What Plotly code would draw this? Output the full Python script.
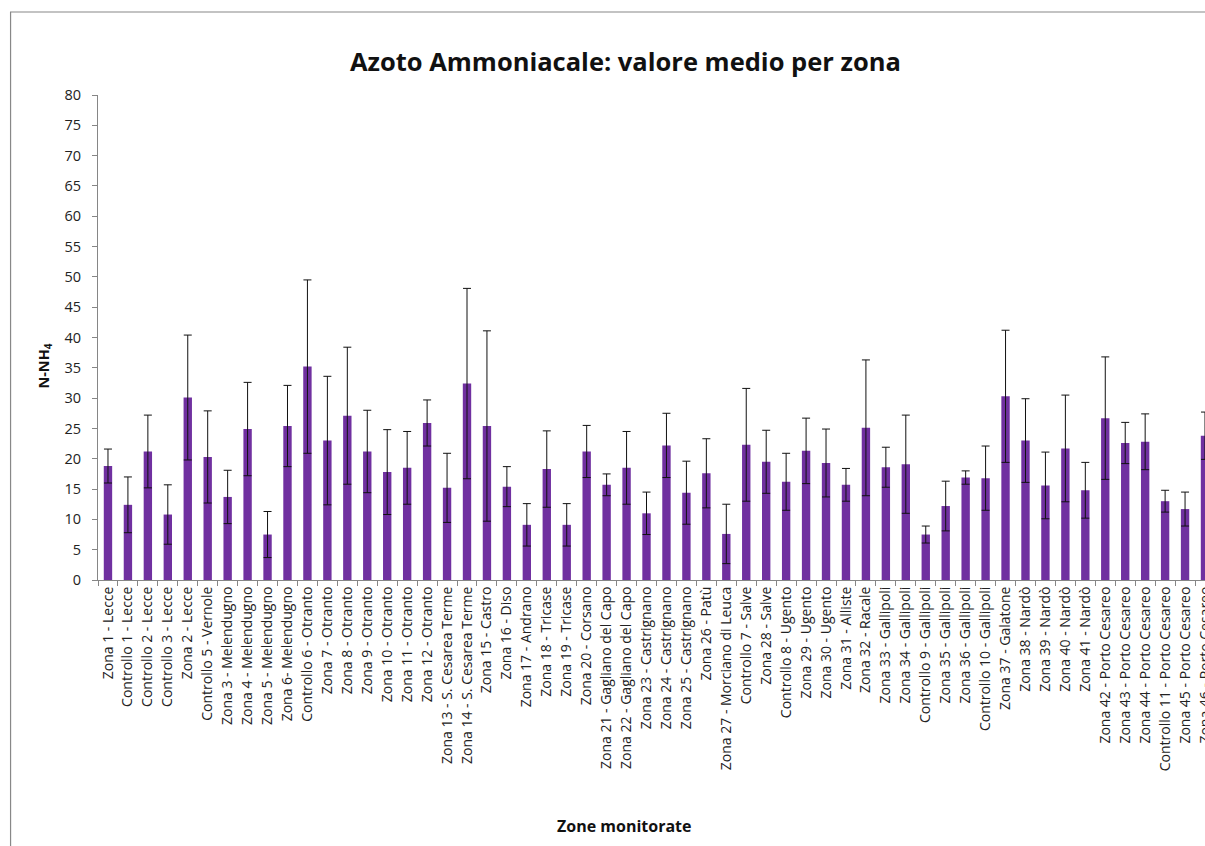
import plotly.graph_objects as go

# Mean ammonia nitrogen (N-NH4) per monitored zone, with standard deviation
zone = [
    "Zona 1 - Lecce", "Controllo 1 - Lecce", "Controllo 2 - Lecce", "Controllo 3 - Lecce",
    "Zona 2 - Lecce", "Controllo 5 - Vernole", "Zona 3 - Melendugno", "Zona 4 - Melendugno",
    "Zona 5 - Melendugno", "Zona 6- Melendugno", "Controllo 6 - Otranto", "Zona 7 - Otranto",
    "Zona 8 - Otranto", "Zona 9 - Otranto", "Zona 10 - Otranto", "Zona 11 - Otranto",
    "Zona 12 - Otranto", "Zona 13 - S. Cesarea Terme", "Zona 14 - S. Cesarea Terme",
    "Zona 15 - Castro", "Zona 16 - Diso", "Zona 17 - Andrano", "Zona 18 - Tricase",
    "Zona 19 - Tricase", "Zona 20 - Corsano", "Zona 21 - Gagliano del Capo",
    "Zona 22 - Gagliano del Capo", "Zona 23 - Castrignano", "Zona 24 - Castrignano",
    "Zona 25 - Castrignano", "Zona 26 - Patù", "Zona 27 - Morciano di Leuca",
    "Controllo 7 - Salve", "Zona 28 - Salve", "Controllo 8 - Ugento", "Zona 29 - Ugento",
    "Zona 30 - Ugento", "Zona 31 - Alliste", "Zona 32 - Racale", "Zona 33 - Gallipoli",
    "Zona 34 - Gallipoli", "Controllo 9 - Gallipoli", "Zona 35 - Gallipoli",
    "Zona 36 - Gallipoli", "Controllo 10 - Gallipoli", "Zona 37 - Galatone",
    "Zona 38 - Nardò", "Zona 39 - Nardò", "Zona 40 - Nardò", "Zona 41 - Nardò",
    "Zona 42 - Porto Cesareo", "Zona 43 - Porto Cesareo", "Zona 44 - Porto Cesareo",
    "Controllo 11 - Porto Cesareo", "Zona 45 - Porto Cesareo", "Zona 46 - Porto Cesareo",
]

media = [
    18.8, 12.4, 21.2, 10.8, 30.1, 20.3, 13.7, 24.9, 7.5, 25.4, 35.2, 23.0,
    27.1, 21.2, 17.8, 18.5, 25.9, 15.2, 32.4, 25.4, 15.4, 9.1, 18.3, 9.1,
    21.2, 15.7, 18.5, 11.0, 22.2, 14.4, 17.6, 7.6, 22.3, 19.5, 16.2, 21.3,
    19.3, 15.7, 25.1, 18.6, 19.1, 7.5, 12.2, 16.9, 16.8, 30.3, 23.0, 15.6,
    21.7, 14.8, 26.7, 22.6, 22.8, 13.0, 11.7, 23.8,
]

dev_std = [
    2.8, 4.6, 6.0, 4.9, 10.3, 7.6, 4.4, 7.7, 3.8, 6.7, 14.3, 10.6,
    11.3, 6.8, 7.0, 6.0, 3.8, 5.7, 15.7, 15.7, 3.3, 3.5, 6.3, 3.5,
    4.3, 1.8, 6.0, 3.5, 5.3, 5.2, 5.7, 4.9, 9.3, 5.2, 4.7, 5.4,
    5.6, 2.7, 11.2, 3.3, 8.1, 1.4, 4.1, 1.1, 5.3, 10.9, 6.9, 5.5,
    8.8, 4.6, 10.1, 3.4, 4.6, 1.8, 2.8, 3.9,
]

FONT = "Open Sans"
AXIS_GREY = "#868686"

fig = go.Figure(
    go.Bar(
        x=zone,
        y=media,
        width=0.42,
        marker=dict(color="#7030A0", line=dict(width=0)),
        error_y=dict(type="data", array=dev_std, symmetric=True,
                     color="#111111", thickness=1, width=4),
        showlegend=False,
    )
)

fig.update_layout(
    width=1205,
    height=846,
    autosize=False,
    margin=dict(l=98, r=0, t=95, b=266, pad=0),
    paper_bgcolor="white",
    plot_bgcolor="white",
    font=dict(family=FONT, color="#333333"),
    title=dict(
        text="<b>Azoto Ammoniacale: valore medio per zona</b>",
        font=dict(family=FONT, size=25.5, color="#111111"),
        x=0.519, xanchor="center",
        y=1 - 62 / 846, yanchor="middle",
    ),
    xaxis=dict(
        type="category",
        range=[-0.5, 55.0],
        automargin=False,
        showline=True, linecolor=AXIS_GREY, linewidth=1,
        ticks="outside", tickson="boundaries", ticklen=5, tickcolor=AXIS_GREY,
        tickangle=-90,
        tickfont=dict(family=FONT, size=14, color="#222222"),
        showgrid=False, zeroline=False,
    ),
    yaxis=dict(
        range=[0, 80], dtick=5, tick0=0,
        automargin=False,
        showline=True, linecolor=AXIS_GREY, linewidth=1,
        ticks="outside", ticklen=5, tickcolor=AXIS_GREY,
        ticklabelstandoff=8,
        tickfont=dict(family=FONT, size=14.5, color="#222222"),
        showgrid=False, zeroline=False,
    ),
    annotations=[
        dict(text="<b>N-NH<sub>4</sub></b>", xref="paper", yref="paper",
             x=(44 - 98.4) / 1106.6, y=(580 - 366) / 485,
             xanchor="center", yanchor="middle", textangle=-90,
             showarrow=False, font=dict(family=FONT, size=14.5, color="#111111")),
        dict(text="<b>Zone monitorate</b>", xref="paper", yref="paper",
             x=(625 - 98.4) / 1106.6, y=(580 - 826) / 485,
             xanchor="center", yanchor="middle",
             showarrow=False, font=dict(family=FONT, size=16, color="#111111")),
    ],
    shapes=[
        dict(type="rect", xref="paper", yref="paper",
             x0=(11 - 98.4) / 1106.6, x1=1.05,
             y0=(580 - 900) / 485, y1=(580 - 12) / 485,
             line=dict(color="#888888", width=1.2), fillcolor="rgba(0,0,0,0)",
             layer="below"),
    ],
)

fig.write_html("out.html")
